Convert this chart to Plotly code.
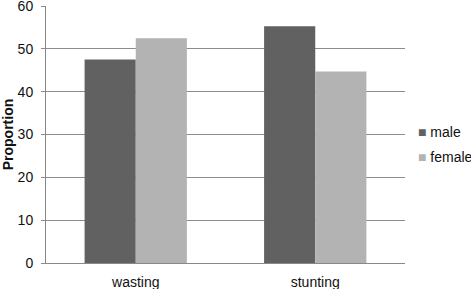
import plotly.graph_objects as go

categories = ["wasting", "stunting"]
male = [47.5, 55.3]
female = [52.5, 44.7]
y_ticks = [0, 10, 20, 30, 40, 50, 60]
series_names = ["male", "female"]
series_colors = ["#616161", "#b3b3b3"]

fig = go.Figure()
for name, vals, col in zip(series_names, [male, female], series_colors):
    fig.add_trace(go.Bar(x=categories, y=vals, name=name, showlegend=False,
                         marker=dict(color=col, line=dict(width=0))))

# legend drawn as text annotations
for i, (name, col) in enumerate(zip(series_names, series_colors)):
    fig.add_annotation(xref="paper", yref="paper", x=1.032, y=0.51 - i * 0.097,
                       xanchor="left", yanchor="middle", showarrow=False,
                       text=f"<span style='color:{col}'>■</span> {name}",
                       font=dict(size=14, color="#111"))

fig.update_layout(
    width=471, height=289,
    margin=dict(l=46, r=66, t=6, b=26, autoexpand=False),
    paper_bgcolor="white", plot_bgcolor="white",
    barmode="group", bargap=0.43, bargroupgap=0,
    font=dict(family="Liberation Sans, Arial", size=14, color="#111"),
    showlegend=False,
    xaxis=dict(showline=True, linecolor="#888", linewidth=1, showgrid=False,
               ticks="", ticklabelstandoff=6, automargin=False),
    yaxis=dict(range=[0, 60], tickvals=y_ticks, showgrid=True, gridcolor="#8c8c8c",
               gridwidth=1, showline=True, linecolor="#888", linewidth=1,
               ticks="outside", ticklen=4, tickcolor="#8c8c8c", zeroline=False,
               ticklabelstandoff=5, automargin=False, ticklabeloverflow="allow",
               title=dict(text="<b>Proportion</b>", font=dict(size=14), standoff=14)),
)
fig.write_html("out.html", config={"displayModeBar": False},
               post_script="document.body.style.margin='0';document.body.style.overflow='hidden';")
